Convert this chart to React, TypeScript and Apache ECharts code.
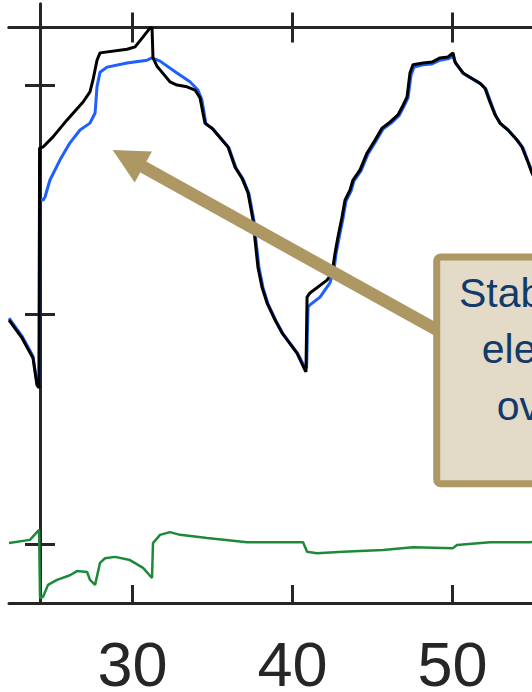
import { useEffect, useRef } from 'react';
import * as echarts from 'echarts';

// Axis ticks
const xTicks = [30, 40, 50];
const yTicks = [0, 50, 100];
const xRange = [22.28, 59];
const yRange = [-12.85, 117.65];

// Measured traces: [time, value]
const blackTrace: [number, number][] = [
  [22.28, 48.8], [23.09, 44.9], [23.78, 40.5], [24.03, 34.6], [24.16, 34.0],
  [24.19, 86.3], [24.41, 86.5], [25.03, 88.7], [25.91, 92.4], [26.91, 96.3],
  [27.34, 98.5], [27.53, 101.1], [27.78, 105.4], [27.97, 107.0], [29.66, 107.8],
  [30.16, 108.3], [30.66, 110.5], [31.09, 112.4], [31.22, 112.4], [31.28, 105.9],
  [31.53, 104.1], [31.72, 103.3], [32.34, 100.7], [32.78, 100.0], [33.41, 99.6],
  [33.91, 98.9], [34.22, 97.2], [34.53, 91.7], [34.97, 90.6], [35.97, 86.5],
  [36.41, 82.1], [36.84, 79.7], [37.22, 76.5], [37.53, 70.6], [37.66, 66.2],
  [37.84, 60.3], [38.09, 56.0], [38.41, 52.5], [38.91, 48.8], [39.34, 46.0],
  [40.28, 41.6], [40.78, 37.9], [40.84, 37.5], [40.91, 53.8], [41.09, 54.7],
  [42.16, 57.5], [42.47, 59.0], [42.66, 63.4], [42.84, 66.9], [43.09, 71.2],
  [43.28, 74.9], [43.59, 77.1], [43.78, 79.3], [44.22, 81.5], [44.66, 85.2],
  [45.16, 88.0], [45.59, 90.6], [46.09, 91.9], [46.59, 93.5], [46.91, 95.6],
  [47.16, 97.4], [47.34, 102.6], [47.53, 104.4], [48.16, 104.8], [48.72, 105.0],
  [49.22, 105.9], [49.72, 106.1], [50.03, 107.0], [50.16, 105.0], [50.66, 102.6],
  [51.09, 101.7], [51.72, 100.4], [52.03, 99.3], [52.34, 96.3], [52.66, 93.5],
  [52.97, 91.7], [53.47, 90.2], [54.03, 88.0], [54.34, 86.5], [54.66, 83.7],
  [54.97, 80.8], [55.78, 74.9], [56.72, 68.4],
];

const blueTrace: [number, number][] = [
  [22.28, 49.2], [23.09, 45.3], [23.78, 40.9], [24.03, 35.0], [24.16, 34.4],
  [24.19, 75.2], [24.41, 74.9], [24.53, 75.6], [24.84, 79.3], [25.47, 83.7],
  [26.09, 87.4], [26.72, 90.2], [27.34, 91.7], [27.66, 93.9], [27.78, 99.6],
  [27.97, 102.8], [28.41, 103.9], [29.66, 104.8], [30.91, 105.4], [31.22, 105.9],
  [31.72, 105.2], [32.78, 102.6], [33.59, 100.7], [34.09, 98.9], [34.34, 96.7],
  [34.59, 91.5], [35.03, 90.4], [36.03, 86.3], [36.47, 81.9], [36.91, 79.5],
  [37.28, 76.3], [37.59, 70.4], [37.72, 66.0], [37.91, 60.1], [38.16, 55.8],
  [38.47, 52.3], [38.97, 48.6], [39.41, 45.8], [40.34, 41.4], [40.72, 38.8],
  [40.88, 38.3], [40.97, 51.6], [41.09, 52.1], [41.72, 53.8], [42.34, 56.9],
  [42.59, 59.7], [42.72, 63.2], [42.91, 66.7], [43.16, 71.0], [43.34, 74.7],
  [43.66, 76.9], [43.84, 79.1], [44.28, 81.3], [44.72, 85.0], [45.22, 87.8],
  [45.66, 90.4], [46.16, 91.7], [46.66, 93.3], [46.97, 95.4], [47.22, 97.2],
  [47.41, 102.2], [47.59, 103.9], [48.16, 104.4], [48.72, 104.6], [49.22, 105.4],
  [49.72, 105.7], [50.03, 106.3], [50.22, 104.6], [50.72, 102.4], [51.16, 101.5],
  [51.78, 100.2], [52.09, 99.1], [52.41, 96.1], [52.72, 93.2], [53.03, 91.5],
  [53.53, 90.0], [54.09, 87.8], [54.41, 86.3], [54.72, 83.4], [55.03, 80.6],
  [55.84, 74.7], [56.78, 68.2],
];

const greenTrace: [number, number][] = [
  [22.28, 0.2], [23.59, 0.9], [24.03, 2.6], [24.16, 3.1], [24.22, -11.8],
  [24.41, -11.5], [24.72, -8.9], [25.28, -7.8], [26.09, -6.8], [26.53, -5.9],
  [27.16, -6.1], [27.34, -7.8], [27.66, -8.9], [27.97, -4.1], [28.28, -3.1],
  [28.91, -2.8], [29.84, -3.5], [30.66, -5.2], [31.22, -7.4], [31.28, 0.2],
  [31.72, 2.0], [32.34, 2.6], [32.97, 2.0], [34.66, 1.3], [37.16, 0.4],
  [39.22, 0.4], [40.66, 0.4], [40.91, -1.7], [41.53, -2.0], [43.16, -1.7],
  [45.66, -1.3], [47.53, -0.7], [50.03, -0.9], [50.28, -0.2], [52.34, 0.4],
  [54.84, 0.4], [56.72, 0.7],
];

const noteLines = ['Stable baseload', 'electricity use', 'over a cycle'];

const AXIS = '#262626';
const TAN = '#ad9763';
const FONT = '"Liberation Sans", Arial, Helvetica, sans-serif';

export default function App() {
  const ref = useRef<HTMLDivElement>(null);

  useEffect(() => {
    if (!ref.current) return;
    const chart = echarts.init(ref.current, null, { renderer: 'svg' });

    const baseX = {
      type: 'value' as const,
      min: xRange[0],
      max: xRange[1],
      splitLine: { show: false },
      axisLine: { show: true, onZero: false, lineStyle: { color: AXIS, width: 3 } },
    };
    const baseY = {
      type: 'value' as const,
      min: yRange[0],
      max: yRange[1],
      position: 'left' as const,
      offset: -31,
      splitLine: { show: false },
      axisLabel: { show: false },
      axisLine: { show: true, onZero: false, lineStyle: { color: AXIS, width: 3 } },
    };

    // arrow geometry (pixels)
    const tip = [112.7, 150];
    const dir = [0.874, 0.486];
    const nrm = [-0.486, 0.874];
    const headLen = 35;
    const headHalf = 17.7;
    const base = [tip[0] + headLen * dir[0], tip[1] + headLen * dir[1]];
    const shaftStart = [tip[0] + 30 * dir[0], tip[1] + 30 * dir[1]];

    chart.setOption({
      animation: false,
      backgroundColor: '#ffffff',
      grid: {
        left: 9, top: 4, width: 587.5, height: 599,
        containLabel: false, outerBoundsMode: 'none',
      },
      xAxis: [
        {
          ...baseX,
          position: 'bottom',
          axisTick: {
            show: true, inside: true, length: 18, customValues: xTicks,
            lineStyle: { color: AXIS, width: 3 },
          },
          axisLabel: {
            show: true, customValues: xTicks, margin: 36, color: AXIS,
            fontSize: 63, lineHeight: 50, fontFamily: FONT,
          },
        },
        {
          ...baseX,
          position: 'top',
          offset: -23.5,
          axisTick: {
            show: true, inside: true, length: 15, customValues: xTicks,
            lineStyle: { color: AXIS, width: 3 },
          },
          axisLabel: { show: false },
        },
        {
          ...baseX,
          position: 'top',
          offset: -23.5,
          axisTick: {
            show: true, inside: false, length: 15, customValues: xTicks,
            lineStyle: { color: AXIS, width: 3 },
          },
          axisLabel: { show: false },
        },
      ],
      yAxis: [
        {
          ...baseY,
          axisTick: {
            show: true, inside: true, length: 15, customValues: yTicks,
            lineStyle: { color: AXIS, width: 3 },
          },
        },
        {
          ...baseY,
          axisTick: {
            show: true, inside: false, length: 15, customValues: yTicks,
            lineStyle: { color: AXIS, width: 3 },
          },
        },
      ],
      series: [
        {
          type: 'line', data: greenTrace, showSymbol: false, z: 3,
          lineStyle: { color: '#1e8a38', width: 2.5 },
        },
        {
          type: 'line', data: blueTrace, showSymbol: false, z: 4,
          lineStyle: { color: '#1f5fff', width: 3 },
        },
        {
          type: 'line', data: blackTrace, showSymbol: false, z: 5,
          lineStyle: { color: '#000000', width: 3 },
        },
      ],
      graphic: [
        {
          type: 'line', z: 50, silent: true,
          shape: { x1: shaftStart[0], y1: shaftStart[1], x2: 445, y2: 334.4 },
          style: { stroke: TAN, lineWidth: 12.5 },
        },
        {
          type: 'polygon', z: 50, silent: true,
          shape: {
            points: [
              tip,
              [base[0] + headHalf * nrm[0], base[1] + headHalf * nrm[1]],
              [base[0] - headHalf * nrm[0], base[1] - headHalf * nrm[1]],
            ],
          },
          style: { fill: TAN },
        },
        {
          type: 'rect', z: 51, silent: true,
          shape: { x: 436.7, y: 257, width: 400, height: 226.7, r: 4 },
          style: { fill: '#e3dbc7', stroke: TAN, lineWidth: 7 },
        },
        {
          type: 'text', z: 52, silent: true,
          x: 606, y: 264.5,
          style: {
            text: noteLines.join('\n'),
            font: `41px ${FONT}`,
            fill: '#123a6b',
            align: 'center',
            verticalAlign: 'top',
            lineHeight: 56.5,
          },
        },
      ],
    });

    return () => chart.dispose();
  }, []);

  return (
    <div
      style={{
        position: 'fixed', left: 0, top: 0, width: 532, height: 692,
        overflow: 'hidden', background: '#ffffff',
      }}
    >
      <div ref={ref} style={{ width: 620, height: 692 }} />
    </div>
  );
}
